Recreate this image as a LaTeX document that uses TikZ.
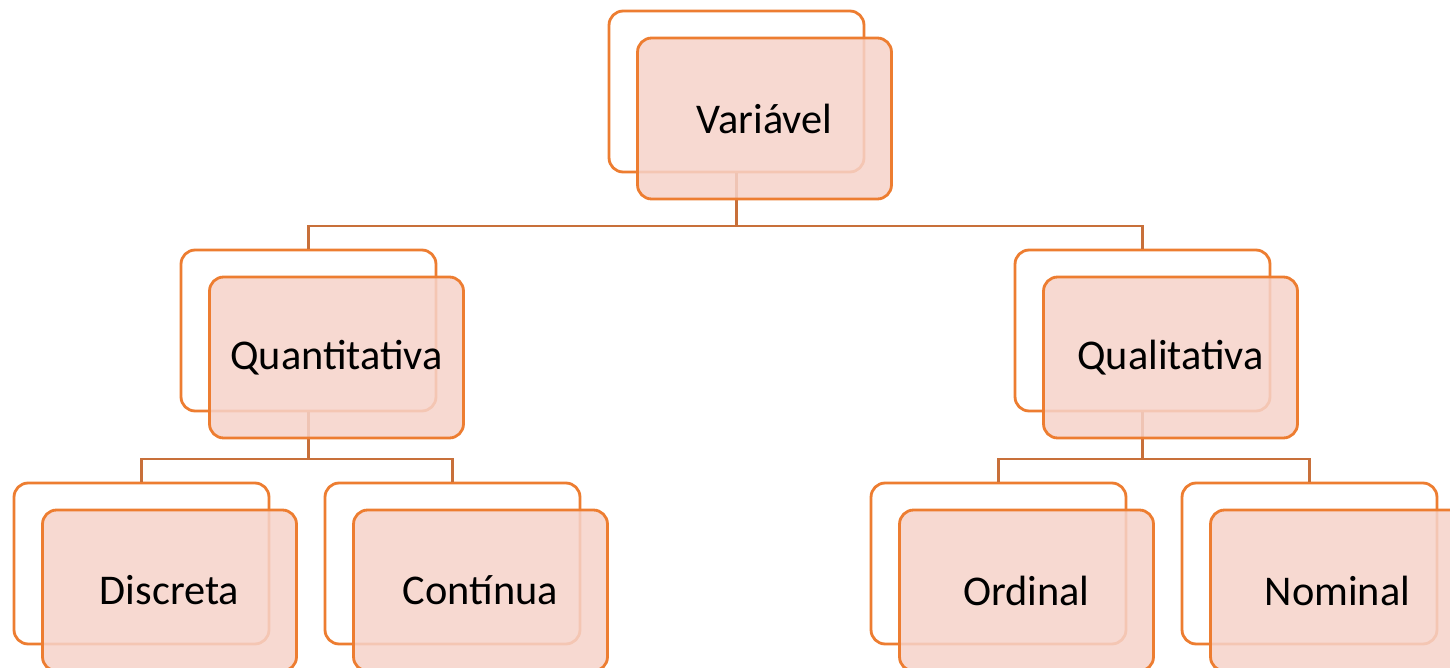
\documentclass[tikz,border=0pt]{standalone}
\usepackage{fontspec}
\setmainfont{Carlito}
\usetikzlibrary{positioning,calc}

\definecolor{edgeorange}{RGB}{237,125,49}
\definecolor{linkorange}{RGB}{200,112,58}
\definecolor{boxpink}{RGB}{246,211,202}

\tikzset{
  backbox/.style={draw=edgeorange, line width=1.6pt, rounded corners=8pt,
    minimum width=5.1cm, minimum height=3.22cm, fill=white},
  frontbox/.style={draw=edgeorange, line width=1.6pt, rounded corners=8pt,
    minimum width=5.08cm, minimum height=3.22cm, fill=boxpink, fill opacity=0.85,
    text opacity=1, font=\fontsize{24.1}{28}\selectfont},
  link/.style={draw=linkorange, line width=1.4pt},
}

\begin{document}
\begin{tikzpicture}[x=0.02cm, y=-0.02cm]
  \useasboundingbox[fill=white] (0,0) rectangle (1450,668);

  % back boxes
  \node[backbox] (varb) at (736.5,91.5) {};
  \node[backbox] (quantb) at (308.5,330.5) {};
  \node[backbox] (qualb) at (1142.5,330.5) {};
  \node[backbox] (discb) at (141.5,563.5) {};
  \node[backbox] (contb) at (452.5,563.5) {};
  \node[backbox] (ordb) at (998.5,563.5) {};
  \node[backbox] (nomb) at (1309.5,563.5) {};

  % connectors
  \coordinate (top) at (0,226);
  \coordinate (left) at (0,459);
  \draw[link] (varb.south) -- (varb.south |- top) -| (quantb.north);
  \draw[link] (varb.south) -- (varb.south |- top) -| (qualb.north);
  \draw[link] (quantb.south) -- (quantb.south |- left) -| (discb.north);
  \draw[link] (quantb.south) -- (quantb.south |- left) -| (contb.north);
  \draw[link] (qualb.south) -- (qualb.south |- left) -| (ordb.north);
  \draw[link] (qualb.south) -- (qualb.south |- left) -| (nomb.north);

  % front boxes
  \node[frontbox] (var) at ($(varb)+(28,27)$) {Variável};
  \node[frontbox] (quant) at ($(quantb)+(28,27)$) {Quantitativa};
  \node[frontbox] (qual) at ($(qualb)+(28,27)$) {Qualitativa};
  \node[frontbox] (disc) at ($(discb)+(28,27)$) {Discreta};
  \node[frontbox] (cont) at ($(contb)+(28,27)$) {Contínua};
  \node[frontbox] (ord) at ($(ordb)+(28,27)$) {Ordinal};
  \node[frontbox] (nom) at ($(nomb)+(28,27)$) {Nominal};
\end{tikzpicture}
\end{document}
